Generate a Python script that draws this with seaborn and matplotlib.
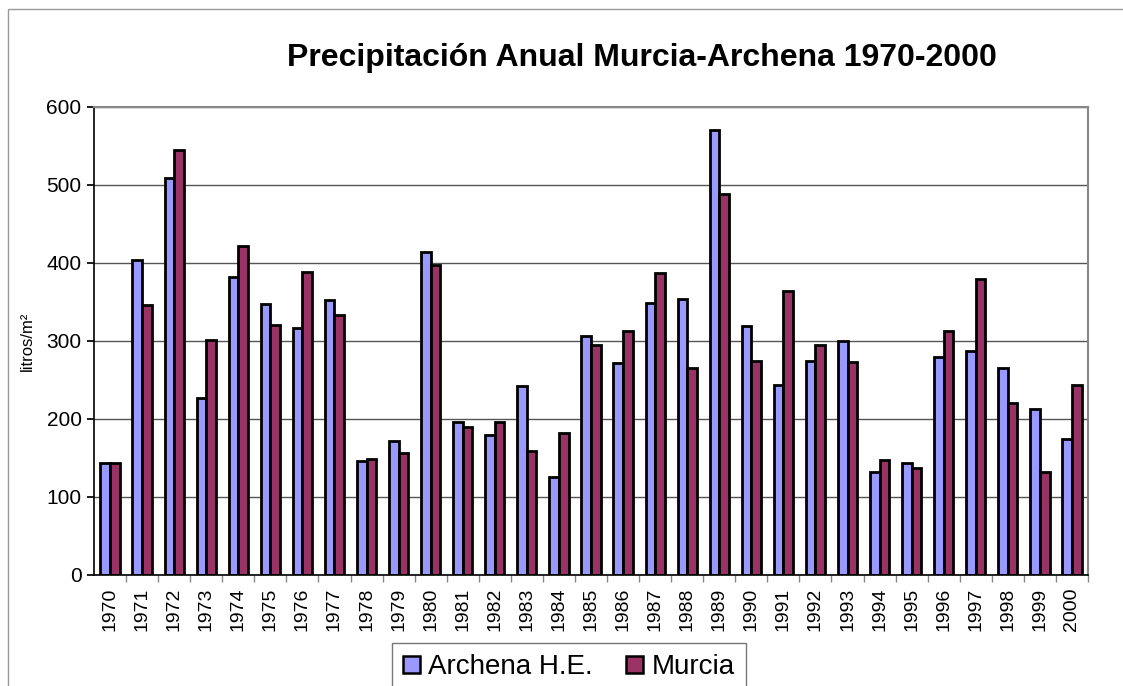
import pandas as pd
import matplotlib
matplotlib.use('Agg')
import matplotlib.pyplot as plt
import seaborn as sns
from matplotlib.patches import Rectangle

# Datos
years = list(range(1970, 2001))
archena = [143, 404, 509, 227, 382, 348, 317, 353, 146, 172, 414, 196, 179, 242, 126,
           306, 272, 349, 354, 570, 319, 243, 275, 300, 132, 144, 279, 287, 266, 213, 175]
murcia = [144, 346, 545, 301, 422, 320, 388, 333, 149, 156, 398, 190, 196, 159, 182,
          295, 313, 387, 266, 489, 275, 364, 295, 273, 148, 137, 313, 379, 220, 132, 243]
series = ['Archena H.E.', 'Murcia']
colors = {'Archena H.E.': '#9999FF', 'Murcia': '#993366'}

df = pd.DataFrame({
    'Año': [str(y) for y in years] * 2,
    'Precipitación': archena + murcia,
    'Estación': [series[0]] * len(years) + [series[1]] * len(years),
})

sns.set_theme(style="white", rc={'text.color': 'black', 'axes.labelcolor': 'black',
                                 'xtick.color': 'black', 'ytick.color': 'black'})
plt.rcParams['font.family'] = ['Liberation Sans', 'DejaVu Sans']

fig = plt.figure(figsize=(11.23, 6.86), dpi=100)
ax = fig.add_axes([94 / 1123, 1 - 575 / 686, (1088 - 94) / 1123, (575 - 107) / 686])

sns.barplot(data=df, x='Año', y='Precipitación', hue='Estación', palette=colors,
            width=0.6, gap=0, edgecolor='black', linewidth=2, saturation=1,
            legend=False, ax=ax)

ax.set_ylim(0, 600)
ax.set_xlim(-0.5, len(years) - 0.5)
ax.set_yticks(range(0, 601, 100))
ax.yaxis.grid(True, color='#555555', linewidth=1)
ax.set_axisbelow(True)
ax.set_xlabel('')
ax.set_ylabel('litros/m²', fontsize=12, labelpad=8)
ax.tick_params(axis='y', labelsize=15, length=5, color='black', direction='out',
               left=True, pad=4)
ax.tick_params(axis='x', labelsize=14, labelrotation=90, length=0, pad=9)
ax.set_xticks([i + 0.5 for i in range(len(years))], minor=True)
ax.tick_params(axis='x', which='minor', length=5, color='#888888', bottom=True)

for side in ['top', 'right']:
    ax.spines[side].set_color('#888888')
    ax.spines[side].set_linewidth(1.5)
for side in ['left', 'bottom']:
    ax.spines[side].set_color('black')
    ax.spines[side].set_linewidth(1.2)

fig.text(642 / 1123, 1 - 58 / 686, 'Precipitación Anual Murcia-Archena 1970-2000',
         ha='center', va='center', fontsize=23, fontweight='bold', color='black')

# Leyenda inferior
handles = [Rectangle((0, 0), 1, 1, facecolor=colors[s], edgecolor='black', linewidth=1.8)
           for s in series]
fig.legend(handles, series, loc='upper center', bbox_to_anchor=(569 / 1123, 1 - 643 / 686),
           ncol=2, frameon=True, fancybox=False, edgecolor='#555555', fontsize=20,
           handlelength=0.6, handleheight=0.6, handletextpad=0.3, columnspacing=1.2,
           borderpad=0.4, borderaxespad=0)

# Marco exterior
fig.patches.append(Rectangle((8 / 1123, -0.01), 1.1, 1 - 9 / 686 + 0.01,
                             transform=fig.transFigure, fill=False,
                             edgecolor='#999999', linewidth=1))

fig.savefig('out.png', dpi=100)
